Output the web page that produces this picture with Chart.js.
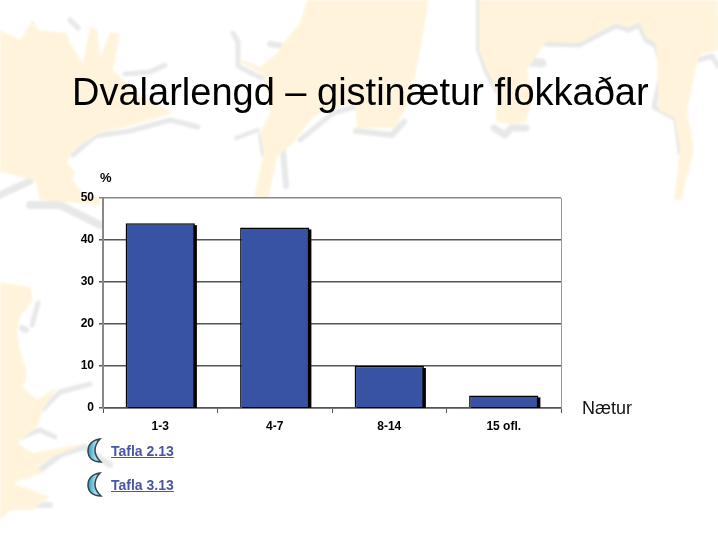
<!DOCTYPE html>
<html lang="is">
<head>
<meta charset="utf-8">
<title>Dvalarlengd</title>
<script src="https://cdn.jsdelivr.net/npm/chart.js@4"></script>
<style>
  html, body { margin: 0; padding: 0; background: #fff; }
  body { position: relative; width: 718px; height: 537px; overflow: hidden; font-family: "Liberation Sans", Arial, sans-serif; }
  #map, #chart, .txt, .icon { position: absolute; }
  #map { left: 0; top: 0; }
  #chart { left: 0; top: 0; }
  .txt { white-space: nowrap; color: #000; }
  #title { left: 72px; top: 68px; font-size: 38px; line-height: 48px; }
  #unit { left: 100px; top: 171px; font-size: 13px; line-height: 14px; font-weight: bold; }
  #xname { left: 582px; top: 398px; font-size: 18px; line-height: 20px; color: #111; }
  .link { left: 111px; font-size: 14px; line-height: 16px; font-weight: bold; color: #4a55a8; text-decoration: underline; }
</style>
</head>
<body>
<svg id="map" width="718" height="537" viewBox="0 0 718 537">
  <defs><filter id="soft"><feGaussianBlur stdDeviation="0.8"/></filter></defs>
  <g filter="url(#soft)">
    <g fill="none" stroke="#e8e8e8" stroke-width="5" stroke-linejoin="round" stroke-linecap="round">
      <polyline points="73,155 95,136 130,131 170,120 198,127"/>
      <polyline points="125,74 150,72 165,65"/>
      <polyline points="70,20 78,28"/>
      <polyline points="233,33 238,42 238,66 255,75 262,78"/>
      <polyline points="270,44 283,46" stroke-width="6"/>
      <polyline points="236,138 258,130" stroke-width="4"/>
      <polyline points="260,135 263,155" stroke-width="4"/>
      <polyline points="283,150 286,186" stroke-width="6"/>
      <polyline points="300,140 333,113 355,107"/>
      <polyline points="356,131 392,135 404,122" stroke-width="6"/>
      <polyline points="478,0 478,50 486,72 497,92" stroke-width="4"/>
      <polyline points="494,128 505,135 511,128 526,128" stroke-width="7"/>
      <polyline points="531,62 542,63" stroke-width="9"/>
      <polyline points="546,44 579,45 616,26 629,30 639,25 646,40 656,46 662,70 654,107 676,119 680,153"/>
      <polyline points="699,60 712,56 718,66"/>
      <polyline points="0,195 30,181" stroke-width="7"/>
      <polyline points="30,205 60,205 100,225" stroke-width="8"/>
      <polyline points="32,325 38,303" stroke-width="5"/>
      <polyline points="22,328 26,330" stroke-width="6"/>
      <polyline points="42,410 60,392 90,384"/>
      <polyline points="22,437 40,430 55,437"/>
      <polyline points="40,470 60,455 85,447 110,465" stroke-width="6"/>
      <polyline points="17,488 30,505 50,505" stroke-width="6"/>
    </g>
    <g fill="#fff4db">
      <polygon points="0,30 20,40 33,20 38,30 67,33 70,43 83,63 90,27 97,30 100,57 110,33 120,33 113,70 140,95 173,113 140,123 100,133 73,150 67,163 75,172 72,180 85,195 100,198 100,205 40,200 35,180 0,172"/>
      <polygon points="307,0 300,23 283,43 277,53 260,67 243,60 240,62 262,74 268,92 270,113 260,133 264,152 254,197 268,200 277,157 293,143 313,117 333,107 355,104 357,128 395,128 410,100 420,50 429,0"/>
      <polygon points="479,0 479,50 487,70 497,90 496,122 510,124 526,122 532,100 527,70 546,42 579,43 616,23 629,27 639,22 646,37 656,43 659,110 675,118 680,150 674,200 681,200 694,150 687,110 696,67 700,55 718,50 718,0"/>
      <polygon points="0,283 10,284 30,287 33,300 20,317 17,333 20,350 27,373 23,387 37,400 57,387 43,410 37,427 17,443 33,453 87,443 50,458 37,467 43,473 13,483 50,497 33,510 10,510 0,520"/>
    </g>
  </g>
</svg>

<canvas id="chart" width="718" height="537" style="width:718px;height:537px"></canvas>

<div class="txt" id="title">Dvalarlengd – gistinætur flokkaðar</div>
<div class="txt" id="unit">%</div>
<div class="txt" id="xname">Nætur</div>

<svg class="icon" style="left:87px;top:438px" width="18" height="60" viewBox="0 0 18 60">
  <defs>
    <linearGradient id="moon" x1="0" y1="0" x2="1" y2="0">
      <stop offset="0" stop-color="#2f9cc0"/>
      <stop offset="0.6" stop-color="#a6e0ee"/>
      <stop offset="1" stop-color="#58bcd6"/>
    </linearGradient>
    <path id="crescent" d="M13,1 C5,2 1,7 1,13 C1,19 5,24 14,24 C10,20 8,17 8,13 C8,9 10,4 13,1 Z" fill="url(#moon)" stroke="#36434e" stroke-width="1.5"/>
  </defs>
  <use href="#crescent"/>
  <use href="#crescent" y="34"/>
</svg>
<a class="txt link" style="top:443px" href="#">Tafla 2.13</a>
<a class="txt link" style="top:477px" href="#">Tafla 3.13</a>

<script>
/* data */
const categories = ["1-3", "4-7", "8-14", "15 ofl."];
const shareValues = [44, 43, 10, 3];
const yTicks = [0, 10, 20, 30, 40, 50];

/* white plot area, right edge and the hard black bar shadow */
const plotDecor = {
  id: "plotDecor",
  beforeDraw(chart) {
    const { ctx, chartArea } = chart;
    ctx.save();
    ctx.fillStyle = "#ffffff";
    ctx.fillRect(chartArea.left, chartArea.top, chartArea.width, chartArea.height);
    ctx.restore();
  },
  beforeDatasetsDraw(chart) {
    const { ctx, chartArea } = chart;
    ctx.save();
    ctx.strokeStyle = "#999999";
    ctx.lineWidth = 1;
    ctx.beginPath();
    ctx.moveTo(chartArea.right + 0.5, chartArea.top);
    ctx.lineTo(chartArea.right + 0.5, chartArea.bottom);
    ctx.stroke();
    ctx.fillStyle = "#000000";
    chart.getDatasetMeta(0).data.forEach(bar => {
      const w = bar.width;
      ctx.fillRect(bar.x - w / 2 + 2, bar.y + 2, w, chartArea.bottom - bar.y - 2);
    });
    ctx.restore();
  }
};

new Chart(document.getElementById("chart"), {
  type: "bar",
  data: {
    labels: categories,
    datasets: [{
      data: shareValues,
      backgroundColor: "#3953a4",
      borderColor: "#000000",
      borderWidth: 1.5,
      barPercentage: 0.605,
      categoryPercentage: 1
    }]
  },
  options: {
    responsive: false,
    animation: false,
    layout: { padding: { left: 0, top: 198, right: 157, bottom: 0 } },
    plugins: { legend: { display: false }, tooltip: { enabled: false } },
    scales: {
      x: {
        afterFit(scale) { scale.height = 129; },
        grid: { drawOnChartArea: false, drawTicks: true, tickLength: 5, color: "#555555", lineWidth: 1 },
        border: { color: "#555555", width: 1.5 },
        ticks: { color: "#000000", padding: 6, font: { family: "Liberation Sans", size: 12, weight: "bold" } }
      },
      y: {
        min: 0,
        max: 50,
        afterFit(scale) { scale.width = 103; },
        afterBuildTicks(scale) { scale.ticks = yTicks.map(v => ({ value: v })); },
        grid: {
          color: ctx => (ctx.tick && ctx.tick.value === 50 ? "#888888" : "#555555"),
          lineWidth: 1.5,
          tickLength: 4
        },
        border: { color: "#888888", width: 2 },
        ticks: { color: "#000000", padding: 5, font: { family: "Liberation Sans", size: 12, weight: "bold" } }
      }
    }
  },
  plugins: [plotDecor]
});
</script>
</body>
</html>
